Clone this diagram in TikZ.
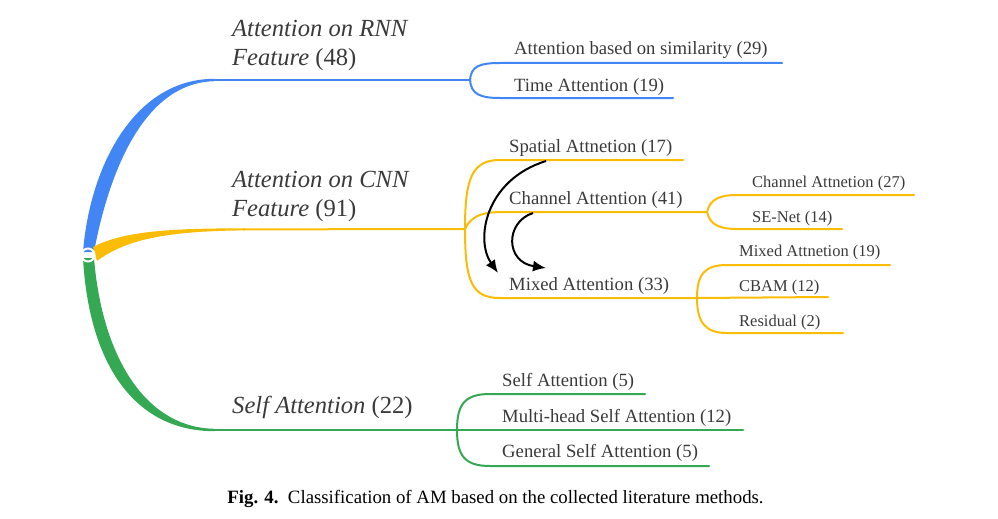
\documentclass[tikz,border=0pt]{standalone}
\usepackage{fontspec}
\setmainfont{Liberation Serif}
\usetikzlibrary{arrows.meta}
\definecolor{rnnblue}{RGB}{66,133,244}
\definecolor{cnnyellow}{RGB}{251,188,5}
\definecolor{sagreen}{RGB}{52,168,83}
\definecolor{txt}{RGB}{58,58,58}
\tikzset{
  main/.style={font=\fontsize{24.6}{28}\selectfont, text=txt, anchor=base west, inner sep=0pt},
  sub/.style={font=\fontsize{18.7}{22}\selectfont, text=txt, anchor=base west, inner sep=0pt},
  leaf/.style={font=\fontsize{16.5}{20}\selectfont, text=txt, anchor=base west, inner sep=0pt},
  branch/.style={line width=2pt, line cap=round},
  flow/.style={-{Latex[length=13pt,width=11pt]}, line width=2pt}
}
\begin{document}
\begin{tikzpicture}[x=1pt,y=-1pt]
  \useasboundingbox (0,0) rectangle (998,519);
  \coordinate (root) at (88,255);
  \coordinate (rnnJ) at (470,80);
  \coordinate (cnnJ) at (465,229);
  \coordinate (saJ) at (457,430);
  \coordinate (chJ) at (707,212);
  \coordinate (mxJ) at (697,298);

  % trunks
  \fill[rnnblue] (83,252) .. controls (90,165) and (135,78.5) .. (215,78.8)
      -- (215,81.2) .. controls (144,82) and (109,172) .. (94,252) -- cycle;
  \fill[sagreen] (83,258) .. controls (89,365) and (135,431.5) .. (215,431.2)
      -- (215,428.8) .. controls (145,428) and (102,356) .. (94,258) -- cycle;
  \fill[cnnyellow] (93,247) .. controls (120,233) and (160,228) .. (245,228.4)
      -- (245,230.4) .. controls (165,231) and (125,240) .. (97,261) -- cycle;
  \draw[rnnblue, line width=2.4pt] (213,80) -- (rnnJ);
  \draw[cnnyellow, line width=2pt] (243,229.4) -- (cnnJ);
  \draw[sagreen, line width=2.4pt] (213,430) -- (saJ);
  \draw[white, line width=2pt] (root) circle (6.5);

  % attention on RNN feature
  \node[main] (rnnA) at (232,37) {\itshape Attention on RNN};
  \node[main] (rnnB) at (232,66) {\itshape Feature\/ \upshape (48)};
  \node[sub] (sim) at (514,55) {Attention based on similarity (29)};
  \node[sub] (time) at (514,91) {Time Attention (19)};
  \draw[rnnblue, branch] (rnnJ) .. controls (471,66) and (480,63) .. (500,63) -- (782,63);
  \draw[rnnblue, branch] (rnnJ) .. controls (471,94) and (480,98) .. (500,98) -- (673,98);

  % attention on CNN feature
  \node[main] (cnnA) at (232,187) {\itshape Attention on CNN};
  \node[main] (cnnB) at (232,216) {\itshape Feature\/ \upshape (91)};
  \node[sub] (spat) at (509,152) {Spatial Attnetion (17)};
  \node[sub] (chan) at (509,204) {Channel Attention (41)};
  \node[sub] (mixd) at (509,290) {Mixed Attention (33)};
  \draw[cnnyellow, branch] (cnnJ) .. controls (465,178) and (472,160) .. (500,160) -- (683,160);
  \draw[cnnyellow, branch] (cnnJ) .. controls (472,214) and (485,212) .. (505,212) -- (chJ);
  \draw[cnnyellow, branch] (cnnJ) .. controls (465,282) and (472,298) .. (500,298) -- (mxJ);

  \node[leaf] (chat) at (752,187) {Channel Attnetion (27)};
  \node[leaf] (senet) at (752,222) {SE-Net (14)};
  \draw[cnnyellow, branch] (chJ) .. controls (710,199) and (720,195) .. (737,195) -- (914,195);
  \draw[cnnyellow, branch] (chJ) .. controls (710,225) and (720,229) .. (737,229) -- (842,229);

  \node[leaf] (mxat) at (739,256) {Mixed Attnetion (19)};
  \node[leaf] (cbam) at (739,291) {CBAM (12)};
  \node[leaf] (resid) at (739,326) {Residual (2)};
  \draw[cnnyellow, branch] (mxJ) .. controls (697,274) and (705,265) .. (727,265) -- (890,265);
  \draw[cnnyellow, branch] (mxJ) -- (828,297);
  \draw[cnnyellow, branch] (mxJ) .. controls (697,322) and (705,333) .. (727,333) -- (843,333);

  \coordinate (spOut) at (546,161);
  \coordinate (chOut) at (533,213);
  \coordinate (mxIn1) at (498,273);
  \coordinate (mxIn2) at (546,268);
  \draw[flow] (spOut) .. controls (485,180) and (475,240) .. (mxIn1);
  \draw[flow] (chOut) .. controls (505,222) and (505,262) .. (mxIn2);

  % self attention
  \node[main] (saA) at (232,413) {\itshape Self Attention\/ \upshape (22)};
  \node[sub] (sa1) at (502,386) {Self Attention (5)};
  \node[sub] (sa2) at (502,422) {Multi-head Self Attention (12)};
  \node[sub] (sa3) at (502,457) {General Self Attention (5)};
  \draw[sagreen, branch] (saJ) .. controls (457,404) and (465,394) .. (490,394) -- (645,394);
  \draw[sagreen, branch] (saJ) -- (743,430);
  \draw[sagreen, branch] (saJ) .. controls (457,456) and (465,466) .. (490,466) -- (709,466);

  \node[font=\fontsize{18.8}{22}\selectfont, anchor=base, inner sep=0pt] (cap) at (495.5,503)
    {\textbf{Fig. 4.}\enspace Classification of AM based on the collected literature methods.};
\end{tikzpicture}
\end{document}
